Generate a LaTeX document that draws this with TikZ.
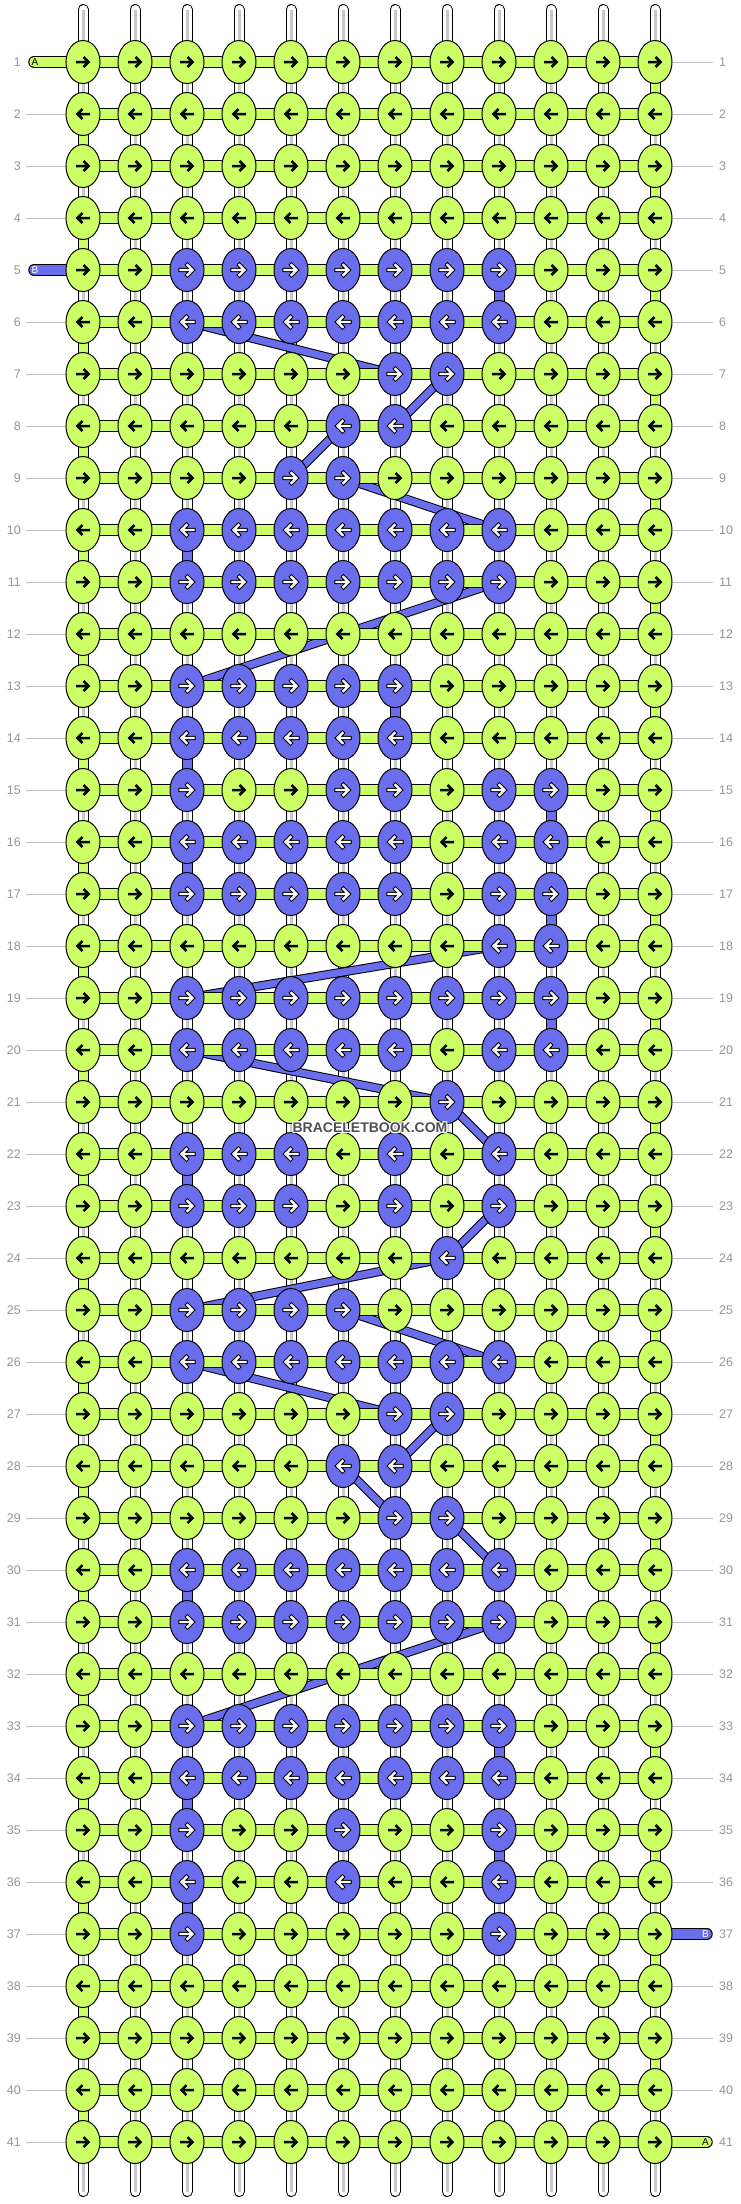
\documentclass[tikz,border=0pt]{standalone}
\usepackage{fontspec}
\setmainfont{Liberation Sans}
\usetikzlibrary{shapes.geometric}
\definecolor{ga}{RGB}{204,255,102}
\definecolor{pb}{RGB}{107,110,236}
\definecolor{lblc}{RGB}{150,150,150}
\definecolor{linec}{RGB}{192,192,192}
\definecolor{stripec}{RGB}{200,200,200}
\definecolor{wmc}{RGB}{80,80,80}
\pgfdeclarelayer{paper}
\pgfdeclarelayer{strings}
\pgfdeclarelayer{diag}
\pgfdeclarelayer{segs}
\pgfdeclarelayer{front}
\pgfsetlayers{paper,strings,diag,segs,main,front}
\makeatletter
\def\setrow#1#2{\expandafter\def\csname pl@#1\endcsname{#2}}
\def\ifpurple#1#2#3#4{\edef\pl@tmp{\noexpand\in@{,#2,}{,\csname pl@#1\endcsname,}}\pl@tmp\ifin@#3\else#4\fi}
\makeatother
\setrow{5}{3,4,5,6,7,8,9}
\setrow{6}{3,4,5,6,7,8,9}
\setrow{7}{7,8}
\setrow{8}{6,7}
\setrow{9}{5,6}
\setrow{10}{3,4,5,6,7,8,9}
\setrow{11}{3,4,5,6,7,8,9}
\setrow{13}{3,4,5,6,7}
\setrow{14}{3,4,5,6,7}
\setrow{15}{3,6,7,9,10}
\setrow{16}{3,4,5,6,7,9,10}
\setrow{17}{3,4,5,6,7,9,10}
\setrow{18}{9,10}
\setrow{19}{3,4,5,6,7,8,9,10}
\setrow{20}{3,4,5,6,7,9,10}
\setrow{21}{8}
\setrow{22}{3,4,5,7,9}
\setrow{23}{3,4,5,7,9}
\setrow{24}{8}
\setrow{25}{3,4,5,6}
\setrow{26}{3,4,5,6,7,8,9}
\setrow{27}{7,8}
\setrow{28}{6,7}
\setrow{29}{7,8}
\setrow{30}{3,4,5,6,7,8,9}
\setrow{31}{3,4,5,6,7,8,9}
\setrow{33}{3,4,5,6,7,8,9}
\setrow{34}{3,4,5,6,7,8,9}
\setrow{35}{3,6,9}
\setrow{36}{3,6,9}
\setrow{37}{3,9}
\begin{document}
\begin{tikzpicture}[x=1pt,y=-1pt,
  knot/.style={ellipse, draw=black, line width=1pt, minimum width=34pt, minimum height=43pt, inner sep=0pt},
  lbl/.style={text=lblc, font=\fontsize{12.5}{14}\selectfont, inner sep=0pt},
  lline/.style={draw=linec, line width=1pt},
  strand/.style={draw=white, line width=9pt, line cap=round, preaction={draw=black, line width=11pt, line cap=round}},
  stripe/.style={draw=stripec, line width=3pt},
  hbar/.style={draw=ga, line width=9.5pt, preaction={draw=black, line width=11.5pt}},
  vsegg/.style={draw=ga, line width=9pt, preaction={draw=black, line width=11pt}},
  vsegp/.style={draw=pb, line width=9pt, preaction={draw=black, line width=11pt}},
  stubg/.style={draw=ga, line width=9.5pt, line cap=round, preaction={draw=black, line width=11.5pt, line cap=round}},
  stubp/.style={draw=pb, line width=9.5pt, line cap=round, preaction={draw=black, line width=11.5pt, line cap=round}},
  diagband/.style={draw=pb, line width=7pt, preaction={draw=black, line width=9pt}},
  stubtxt/.style={font=\fontsize{10}{10}\selectfont, inner sep=0pt},
  arrb/.pic={\draw[black, line width=2.5pt, line join=miter] (-7,0) -- (5,0) (0.5,-5) -- (5.5,0) -- (0.5,5);},
  arrw/.pic={\draw[black, line width=4.4pt, line join=miter, line cap=rect] (-6.5,0) -- (5,0) (0.5,-5) -- (5.5,0) -- (0.5,5);
             \draw[white, line width=2.2pt, line join=miter, line cap=rect] (-6.5,0) -- (5,0) (0.5,-5) -- (5.5,0) -- (0.5,5);},
  wmtxt/.style={font=\bfseries\fontsize{14}{14}\selectfont, inner sep=0pt}
]
\begin{pgfonlayer}{paper}
\fill[white] (0,0) rectangle (740,2204);
\end{pgfonlayer}
\useasboundingbox (0,0) rectangle (740,2204);

% knots
\foreach \ro in {1,...,41}{
  \ifodd\ro\relax \def\dir{1}\else\def\dir{-1}\fi
  \foreach \co in {1,...,12}{
    \ifpurple{\ro}{\co}{\def\fc{pb}\def\isp{1}}{\def\fc{ga}\def\isp{0}}
    \node[knot, fill=\fc] (n-\ro-\co) at ({31+52*\co},{10+52*\ro}) {};
    \if1\isp
      \pic[xscale=\dir] at (n-\ro-\co.center) {arrw};
    \else
      \pic[xscale=\dir] at (n-\ro-\co.center) {arrb};
    \fi
  }
  \node[lbl, anchor=east] (ll-\ro) at (21,{10+52*\ro}) {\ro};
  \node[lbl, anchor=west] (rl-\ro) at (719,{10+52*\ro}) {\ro};
}

% vertical strands
\foreach \co in {1,...,12}{
  \coordinate (top-\co) at ({31+52*\co},9.5);
  \coordinate (bot-\co) at ({31+52*\co},2191.5);
  \begin{pgfonlayer}{strings}
    \draw[strand] (top-\co) -- (bot-\co);
    \draw[stripe] ([xshift=0.8pt]top-\co) -- ([xshift=0.8pt]bot-\co);
  \end{pgfonlayer}
}

% label lines
\begin{pgfonlayer}{strings}
\foreach \ro in {2,3,4,6,7,8,9,10,11,12,13,14,15,16,17,18,19,20,21,22,23,24,25,26,27,28,29,30,31,32,33,34,35,36,37,38,39,40,41}{
  \draw[lline] ([xshift=5pt]ll-\ro.east) -- (n-\ro-1.west);
}
\foreach \ro in {1,...,36,38,39,40}{
  \draw[lline] (n-\ro-12.east) -- ([xshift=-6pt]rl-\ro.west);
}
\end{pgfonlayer}

% diagonal B carries
\begin{pgfonlayer}{diag}
\foreach \ra/\ca/\rb/\cb in {6/3/7/7, 7/8/8/7, 8/6/9/5, 9/6/10/9, 11/9/13/3, 18/9/19/3, 20/3/21/8, 21/8/22/9, 23/9/24/8, 24/8/25/3, 25/6/26/9, 26/3/27/7, 27/8/28/7, 28/6/29/7, 29/8/30/9, 31/9/33/3}{
  \draw[diagband] (n-\ra-\ca.center) -- (n-\rb-\cb.center);
}
\end{pgfonlayer}

% horizontal bars, vertical coloured segments, stubs
\begin{pgfonlayer}{segs}
\foreach \ro in {1,...,41}{
  \draw[hbar] (n-\ro-1.center) -- (n-\ro-12.center);
}
\foreach \k in {1,...,20}{
  \pgfmathtruncatemacro\ea{2*\k}
  \pgfmathtruncatemacro\eb{2*\k+1}
  \pgfmathtruncatemacro\oa{2*\k-1}
  \draw[vsegg] (n-\ea-1.center) -- (n-\eb-1.center);
  \draw[vsegg] (n-\oa-12.center) -- (n-\ea-12.center);
}
\foreach \ra/\ca in {5/9, 10/3, 13/7, 14/3, 15/10, 16/3, 17/10, 19/10, 22/3, 30/3, 33/9, 34/3, 35/9, 36/3}{
  \pgfmathtruncatemacro\rn{\ra+1}
  \draw[vsegp] (n-\ra-\ca.center) -- (n-\rn-\ca.center);
}
\coordinate (sl-1) at (34,62);
\coordinate (sl-5) at (34,270);
\coordinate (sr-37) at (707,1934);
\coordinate (sr-41) at (707,2142);
\draw[stubg] (sl-1) -- (n-1-1.center);
\draw[stubp] (sl-5) -- (n-5-1.center);
\draw[stubp] (n-37-12.center) -- (sr-37);
\draw[stubg] (n-41-12.center) -- (sr-41);
\end{pgfonlayer}

\begin{pgfonlayer}{front}
\node[stubtxt, text=black] (tA1) at (35,62) {A};
\node[stubtxt, text=white] (tB5) at (35,270) {B};
\node[stubtxt, text=white] (tB37) at (705.5,1934) {B};
\node[stubtxt, text=black] (tA41) at (705.5,2142) {A};
\foreach \dx/\dy [count=\i] in {-1/0, 1/0, 0/-1, 0/1, -1/-1, 1/1, -1/1, 1/-1}{
  \node[wmtxt, text=white] (wm-\i) at ({370+\dx},{1128+\dy}) {BRACELETBOOK.COM};
}
\node[wmtxt, text=wmc] (wm) at (370,1128) {BRACELETBOOK.COM};
\end{pgfonlayer}
\end{tikzpicture}
\end{document}
